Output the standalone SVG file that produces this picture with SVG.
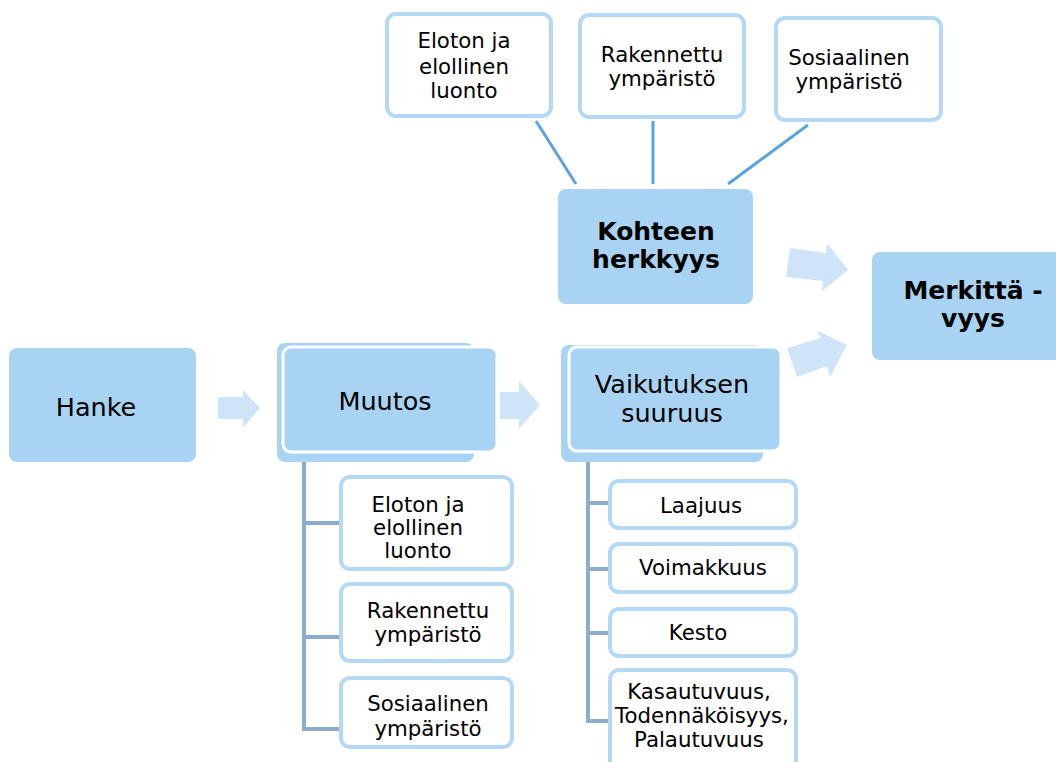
<svg xmlns="http://www.w3.org/2000/svg" width="1056" height="762" viewBox="0 0 1056 762">
<style>
  text { font-family: "DejaVu Sans", Verdana, sans-serif; fill: #000; text-anchor: middle; }
  .big { font-size: 25.5px; }
  .bold { font-size: 25px; font-weight: bold; }
  .sm { font-size: 21.3px; }
  .main { fill: #a9d3f2; }
  .front { fill: #a9d3f2; stroke: #ffffff; stroke-width: 3; }
  .sub { fill: #ffffff; stroke: #b5d9f5; stroke-width: 4; }
  .arrow { fill: #cfe5f7; }
  .tree { stroke: #8daccb; stroke-width: 4; fill: none; }
  .spoke { stroke: #5ba3da; stroke-width: 3; fill: none; }
</style>
<rect width="1056" height="762" fill="#ffffff"/>

<g id="connectors">
  <line class="spoke" x1="536" y1="121" x2="576" y2="184"/>
  <line class="spoke" x1="653" y1="121" x2="653" y2="184"/>
  <line class="spoke" x1="808" y1="125" x2="728" y2="184"/>
  <path class="tree" d="M304 452 V729 M302 523 H340 M302 637 H340 M302 729 H340"/>
  <path class="tree" d="M588 452 V722 M586 503 H609 M586 569 H609 M586 633 H609 M586 721 H609"/>
  <polygon class="arrow" points="218,397 243,397 243,390 260,408 243,428 243,419 218,419"/>
  <polygon class="arrow" points="500,392 519,392 519,381 540,405 519,429 519,419 500,419"/>
  <polygon class="arrow" points="790,248 826,253 827,243 848,270 822,291 823,281 786,277"/>
  <polygon class="arrow" points="787,348 821,338 816,330 847,345 830,377 827,366 797,377"/>
</g>

<g id="hanke">
  <rect class="main" x="9" y="348" width="187" height="114" rx="8"/>
  <text class="big" x="96" y="416">Hanke</text>
</g>

<g id="muutos">
  <rect class="main" x="277" y="343" width="197" height="119" rx="8"/>
  <rect class="front" x="283" y="347" width="214" height="105" rx="8"/>
  <text class="big" x="385" y="410">Muutos</text>
</g>

<g id="vaikutuksen">
  <rect class="main" x="561" y="345" width="202" height="117" rx="8"/>
  <rect class="front" x="569" y="347" width="212" height="104" rx="8"/>
  <text class="big" x="672" y="393">Vaikutuksen</text>
  <text class="big" x="672" y="422">suuruus</text>
</g>

<g id="kohteen">
  <rect class="main" x="558" y="189" width="195" height="115" rx="8"/>
  <text class="bold" x="656" y="240">Kohteen</text>
  <text class="bold" x="656" y="268">herkkyys</text>
</g>

<g id="merkittavyys">
  <rect class="main" x="872" y="252" width="200" height="108" rx="8"/>
  <text class="bold" x="973" y="299">Merkittä -</text>
  <text class="bold" x="973" y="327">vyys</text>
</g>

<g id="top-eloton">
  <rect class="sub" x="387" y="14" width="164" height="102" rx="9"/>
  <text class="sm" x="464" y="48">Eloton ja</text>
  <text class="sm" x="464" y="74">elollinen</text>
  <text class="sm" x="464" y="98">luonto</text>
</g>
<g id="top-rakennettu">
  <rect class="sub" x="580" y="15" width="164" height="102" rx="9"/>
  <text class="sm" x="662" y="62">Rakennettu</text>
  <text class="sm" x="662" y="86">ympäristö</text>
</g>
<g id="top-sosiaalinen">
  <rect class="sub" x="776" y="18" width="165" height="102" rx="9"/>
  <text class="sm" x="849" y="65">Sosiaalinen</text>
  <text class="sm" x="849" y="89">ympäristö</text>
</g>

<g id="m-eloton">
  <rect class="sub" x="341" y="477" width="171" height="92" rx="9"/>
  <text class="sm" x="418" y="512">Eloton ja</text>
  <text class="sm" x="418" y="535">elollinen</text>
  <text class="sm" x="418" y="558">luonto</text>
</g>
<g id="m-rakennettu">
  <rect class="sub" x="341" y="584" width="171" height="77" rx="9"/>
  <text class="sm" x="428" y="618">Rakennettu</text>
  <text class="sm" x="428" y="642">ympäristö</text>
</g>
<g id="m-sosiaalinen">
  <rect class="sub" x="341" y="678" width="171" height="69" rx="9"/>
  <text class="sm" x="428" y="711">Sosiaalinen</text>
  <text class="sm" x="428" y="736">ympäristö</text>
</g>

<g id="v-laajuus">
  <rect class="sub" x="610" y="481" width="186" height="47" rx="9"/>
  <text class="sm" x="701" y="513">Laajuus</text>
</g>
<g id="v-voimakkuus">
  <rect class="sub" x="610" y="544" width="186" height="48" rx="9"/>
  <text class="sm" x="703" y="575">Voimakkuus</text>
</g>
<g id="v-kesto">
  <rect class="sub" x="610" y="609" width="186" height="47" rx="9"/>
  <text class="sm" x="698" y="640">Kesto</text>
</g>
<g id="v-kasautuvuus">
  <rect class="sub" x="610" y="670" width="186" height="110" rx="9"/>
  <text class="sm" x="699" y="699">Kasautuvuus,</text>
  <text class="sm" x="702" y="723">Todennäköisyys,</text>
  <text class="sm" x="699" y="747">Palautuvuus</text>
</g>
</svg>
